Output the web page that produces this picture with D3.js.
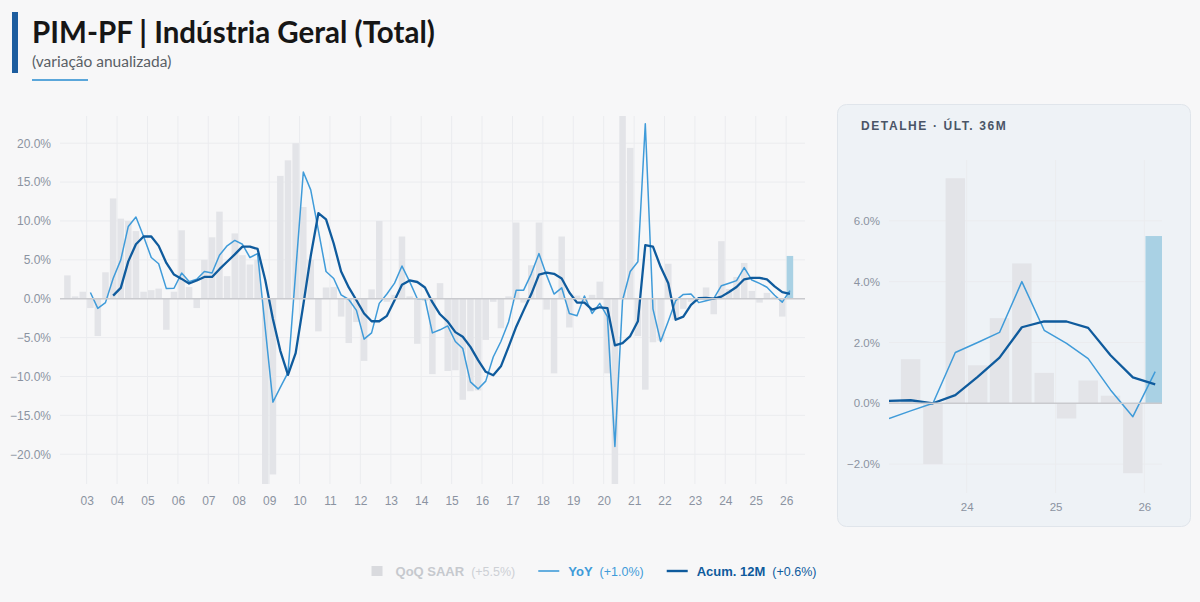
<!DOCTYPE html>
<html>
<head>
<meta charset="utf-8">
<script src="https://cdn.jsdelivr.net/npm/d3@7"></script>
<style>
    html, body { margin: 0; padding: 0; background: #f7f7f8; }
    svg { display: block; }
    text { font-family: "Liberation Sans", Arial, Helvetica, sans-serif; }
</style>
</head>
<body>
<svg id="chart" width="1200" height="602"></svg>
<script>
// Quarterly observations (middle month of each rolling quarter)
const periods = [
    "2002-02", "2002-05", "2002-08", "2002-11",
    "2003-02", "2003-05", "2003-08", "2003-11",
    "2004-02", "2004-05", "2004-08", "2004-11",
    "2005-02", "2005-05", "2005-08", "2005-11",
    "2006-02", "2006-05", "2006-08", "2006-11",
    "2007-02", "2007-05", "2007-08", "2007-11",
    "2008-02", "2008-05", "2008-08", "2008-11",
    "2009-02", "2009-05", "2009-08", "2009-11",
    "2010-02", "2010-05", "2010-08", "2010-11",
    "2011-02", "2011-05", "2011-08", "2011-11",
    "2012-02", "2012-05", "2012-08", "2012-11",
    "2013-02", "2013-05", "2013-08", "2013-11",
    "2014-02", "2014-05", "2014-08", "2014-11",
    "2015-02", "2015-05", "2015-08", "2015-11",
    "2016-02", "2016-05", "2016-08", "2016-11",
    "2017-02", "2017-05", "2017-08", "2017-11",
    "2018-02", "2018-05", "2018-08", "2018-11",
    "2019-02", "2019-05", "2019-08", "2019-11",
    "2020-02", "2020-05", "2020-08", "2020-11",
    "2021-02", "2021-05", "2021-08", "2021-11",
    "2022-02", "2022-05", "2022-08", "2022-11",
    "2023-02", "2023-05", "2023-08", "2023-11",
    "2024-02", "2024-05", "2024-08", "2024-11",
    "2025-02", "2025-05", "2025-08", "2025-11",
    "2026-02"
];

// QoQ SAAR, % (bars)
const qoqSaar = [
    null, 3.0, 0.3, 0.9,
    -1.2, -4.8, 3.4, 12.9,
    10.3, 10.0, 8.7, 0.9,
    1.1, 1.3, -4.0, 0.9,
    8.8, 1.5, -1.2, 5.0,
    7.9, 11.2, 2.9, 8.4,
    5.6, 4.4, 5.0, -27.0,
    -22.6, 15.8, 17.8, 20.0,
    11.8, 5.0, -4.2, 1.45,
    1.5, -2.3, -5.7, -3.0,
    -8.0, 1.2, 10.0, -0.4,
    0.5, 8.0, 0.3, -5.8,
    -0.3, -9.7, 2.0, -9.3,
    -9.2, -13.0, -11.9, -11.8,
    -5.3, -0.4, -3.8, 0.3,
    9.8, -0.5, 4.3, 9.8,
    -1.4, -9.6, 8.0, -3.7,
    0.4, -0.6, 0.5, 2.2,
    -9.6, -27.0, 27.0, 19.4,
    -4.8, -11.7, -5.6, -5.4,
    4.5, -2.7, -1.3, -0.4,
    0.05, 1.45, -2.0, 7.4,
    1.25, 2.8, 4.6, 1.0,
    -0.5, 0.75, 0.25, -2.3,
    5.5
];

// YoY, %
const yoy = [
    null, null, null, null,
    0.8, -1.25, -0.5, 2.6,
    5.0, 9.3, 10.5, 8.0,
    5.3, 4.5, 1.3, 1.35,
    3.3, 2.2, 2.5, 3.5,
    3.3, 5.6, 6.8, 7.5,
    7.0, 5.3, 5.8, -3.8,
    -13.3, -11.4, -9.5, 3.4,
    16.3, 14.0, 8.8, 3.5,
    2.6, 0.5, -0.1, -1.5,
    -5.2, -4.4, -0.6, 0.6,
    2.0, 4.2, 2.2, 0.0,
    0.0, -4.4, -4.0, -3.5,
    -5.5, -6.4, -10.7, -11.6,
    -10.6, -7.5, -5.5, -3.0,
    1.1, 1.1, 3.2, 5.8,
    3.0, 0.6, 1.4, -1.9,
    -2.2, 0.35, -1.9, -0.6,
    -2.3, -19.0, -0.2, 3.5,
    4.75, 22.5, -1.3, -5.5,
    -2.9, -0.25, 0.55, 0.6,
    -0.5, -0.25, 0.0, 1.67,
    2.0, 2.33, 4.0, 2.4,
    1.97, 1.47, 0.44, -0.44,
    1.04
];

// Acumulado 12 meses, %
const acum12m = [
    null, null, null, null,
    null, null, null, 0.4,
    1.4, 4.8, 7.0, 8.0,
    8.0, 6.8, 4.6, 3.1,
    2.55, 1.95, 2.35, 2.8,
    2.8, 3.8, 4.75, 5.7,
    6.7, 6.7, 6.4, 2.4,
    -2.6, -6.7, -9.8, -7.0,
    -0.8, 5.5, 11.0, 10.2,
    7.1, 3.5, 1.45, -0.2,
    -1.9, -2.9, -2.9, -2.2,
    -0.2, 1.8, 2.35, 2.15,
    1.45, -0.45, -2.0, -2.95,
    -4.3, -4.9, -6.2, -7.9,
    -9.4, -9.85, -8.7, -6.2,
    -3.6, -1.5, 0.6, 3.1,
    3.35, 3.2, 2.6, 0.8,
    -0.5, -0.5, -1.4, -1.1,
    -1.2, -6.0, -5.7, -4.8,
    -2.9, 6.9, 6.7, 4.1,
    2.0, -2.7, -2.3, -0.8,
    0.08, 0.1, 0.0, 0.27,
    0.87, 1.5, 2.5, 2.69,
    2.69, 2.48, 1.58, 0.85,
    0.62
];

const mainYTicks = [-20, -15, -10, -5, 0, 5, 10, 15, 20];
const detailYTicks = [-2, 0, 2, 4, 6];
const seriesNames = ["QoQ SAAR", "YoY", "Acum. 12M"];
const detailWindow = 13; // last 36 months

const COLORS = {
    bar: "#e3e4e8",
    barLast: "#a9d1e4",
    yoy: "#3f9bd9",
    acum: "#0f5b9d",
    grid: "#ebecef",
    zero: "#c9cace",
    tick: "#8b93a1"
};

const parseMonth = d3.timeParse("%Y-%m");
const rows = periods.map((p, i) => ({
    date: d3.timeDay.offset(parseMonth(p), 14),
    qoq: qoqSaar[i],
    yoy: yoy[i],
    acum: acum12m[i]
}));
const lastRow = rows[rows.length - 1];

const svg = d3.select("#chart");
const fmtPct = d3.format(".1%");

svg.append("rect").attr("width", 1200).attr("height", 602).attr("fill", "#f7f7f8");

// ---- header ----
svg.append("rect")
    .attr("x", 12).attr("y", 12).attr("width", 6).attr("height", 61)
    .attr("fill", "#1d5d9f");

svg.append("text")
    .attr("x", 32).attr("y", 43)
    .style("font-family", "Lato, 'Noto Sans', sans-serif")
    .style("font-weight", 700)
    .style("font-size", "29.5px")
    .attr("fill", "#161616")
    .text("PIM-PF | Indústria Geral (Total)");

svg.append("text")
    .attr("x", 32).attr("y", 67)
    .style("font-family", "Lato, 'Noto Sans', sans-serif")
    .style("font-size", "15.5px")
    .attr("fill", "#5a5f66")
    .text("(variação anualizada)");

svg.append("rect")
    .attr("x", 32).attr("y", 79).attr("width", 56).attr("height", 2)
    .attr("fill", "#5aa6da");

// ---- detail card background ----
svg.append("rect")
    .attr("x", 837.5).attr("y", 104.5)
    .attr("width", 353).attr("height", 422)
    .attr("rx", 9)
    .attr("fill", "#eef2f6")
    .attr("stroke", "#e0e5eb");

svg.append("text")
    .attr("x", 861).attr("y", 129.5)
    .style("font-size", "12px")
    .style("font-weight", 700)
    .style("letter-spacing", "1.6px")
    .attr("fill", "#4a5567")
    .text("DETALHE · ÚLT. 36M");

function drawPanel(data, o) {
    const x = d3.scaleTime().domain(o.xDomain).range([o.left, o.right]);
    const y = d3.scaleLinear().domain(o.yDomain).range([o.bottom, o.top]);

    svg.append("clipPath").attr("id", o.id + "-clip")
        .append("rect")
        .attr("x", o.left).attr("y", o.top)
        .attr("width", o.right - o.left).attr("height", o.bottom - o.top);

    const g = svg.append("g");
    const years = x.ticks(d3.timeYear.every(1));

    // gridlines
    g.append("g").selectAll("line")
        .data(o.yTicks.filter(v => v !== 0))
        .join("line")
        .attr("x1", o.left).attr("x2", o.right)
        .attr("y1", d => y(d)).attr("y2", d => y(d))
        .attr("stroke", COLORS.grid);

    g.append("g").selectAll("line")
        .data(years)
        .join("line")
        .attr("x1", d => x(d)).attr("x2", d => x(d))
        .attr("y1", o.top).attr("y2", o.bottom)
        .attr("stroke", COLORS.grid);

    const plot = g.append("g").attr("clip-path", `url(#${o.id}-clip)`);

    // QoQ bars
    const step = x(data[1].date) - x(data[0].date);
    const bw = step * o.barFill;
    plot.append("g").selectAll("rect")
        .data(data.filter(d => d.qoq != null))
        .join("rect")
        .attr("x", d => x(d.date) - bw / 2)
        .attr("width", bw)
        .attr("y", d => y(Math.max(0, d.qoq)))
        .attr("height", d => Math.abs(y(d.qoq) - y(0)))
        .attr("fill", d => d === lastRow ? COLORS.barLast : COLORS.bar);

    // zero line
    g.append("line")
        .attr("x1", o.left).attr("x2", o.right)
        .attr("y1", y(0)).attr("y2", y(0))
        .attr("stroke", COLORS.zero)
        .attr("stroke-width", 1.5);

    // lines
    const lineFor = key => d3.line()
        .defined(d => d[key] != null)
        .x(d => x(d.date))
        .y(d => y(d[key]));

    plot.append("path")
        .datum(data)
        .attr("d", lineFor("yoy"))
        .attr("fill", "none")
        .attr("stroke", COLORS.yoy)
        .attr("stroke-width", 1.5)
        .attr("stroke-linejoin", "round");

    plot.append("path")
        .datum(data)
        .attr("d", lineFor("acum"))
        .attr("fill", "none")
        .attr("stroke", COLORS.acum)
        .attr("stroke-width", 2.3)
        .attr("stroke-linejoin", "round");

    // axes
    const yAxis = g.append("g")
        .attr("transform", `translate(${o.left},0)`)
        .call(d3.axisLeft(y).tickValues(o.yTicks).tickSize(0).tickPadding(9)
            .tickFormat(d => fmtPct(d / 100)));

    const xAxis = g.append("g")
        .attr("transform", `translate(0,${o.bottom})`)
        .call(d3.axisBottom(x).tickValues(years).tickSize(0).tickPadding(o.xPad)
            .tickFormat(d3.timeFormat("%y")));

    [yAxis, xAxis].forEach(a => {
        a.select(".domain").remove();
        a.selectAll("text")
            .attr("fill", COLORS.tick)
            .style("font-family", "'Liberation Sans', Arial, sans-serif")
            .style("font-size", o.fontSize);
    });
}

// ---- main chart ----
drawPanel(rows, {
    id: "main",
    left: 60, right: 805, top: 116, bottom: 484,
    xDomain: [rows[0].date, d3.timeMonth.offset(lastRow.date, 6)],
    yDomain: [-23.83, 23.5],
    yTicks: mainYTicks,
    barFill: 0.88,
    xPad: 12,
    fontSize: "12px"
});

// ---- detail: last 36 months ----
const recent = rows.slice(rows.length - detailWindow);
drawPanel(recent, {
    id: "detail",
    left: 889, right: 1162, top: 160, bottom: 493,
    xDomain: [recent[0].date, d3.timeMonth.offset(lastRow.date, 1)],
    yDomain: [-2.95, 8],
    yTicks: detailYTicks,
    barFill: 0.9,
    xPad: 10,
    fontSize: "11.5px"
});

// ---- legend ----
const fmtLast = v => `(${d3.format("+.1f")(v)}%)`;
const legendItems = [
    { name: seriesNames[0], value: fmtLast(lastRow.qoq), kind: "box", color: "#d9dade", text: "#c6c9ce", valueColor: "#cdd0d5" },
    { name: seriesNames[1], value: fmtLast(lastRow.yoy), kind: "line", color: COLORS.yoy, text: COLORS.yoy, valueColor: COLORS.yoy, width: 1.6 },
    { name: seriesNames[2], value: fmtLast(lastRow.acum), kind: "line", color: COLORS.acum, text: COLORS.acum, valueColor: COLORS.acum, width: 2.4 }
];

const legend = svg.append("g");
let cx = 0;
legendItems.forEach((item, i) => {
    const it = legend.append("g").attr("transform", `translate(${cx},0)`);
    if (item.kind === "box") {
        it.append("rect").attr("x", 0).attr("y", -5).attr("width", 11).attr("height", 10)
            .attr("fill", item.color);
    } else {
        it.append("line").attr("x1", 0).attr("x2", 21).attr("y1", 0).attr("y2", 0)
            .attr("stroke", item.color).attr("stroke-width", item.width);
    }
    const label = it.append("text")
        .attr("x", item.kind === "box" ? 24 : 30).attr("y", 4.5)
        .style("font-size", "13px").style("font-weight", 700)
        .attr("fill", item.text)
        .text(item.name);
    const lx = +label.attr("x") + label.node().getComputedTextLength() + 7;
    const val = it.append("text")
        .attr("x", lx).attr("y", 4.5)
        .style("font-size", "12.5px")
        .attr("fill", item.valueColor)
        .text(item.value);
    cx += lx + val.node().getComputedTextLength() + 23;
});
const legendWidth = cx - 23;
legend.attr("transform", `translate(${594 - legendWidth / 2},571)`);
</script>
</body>
</html>
